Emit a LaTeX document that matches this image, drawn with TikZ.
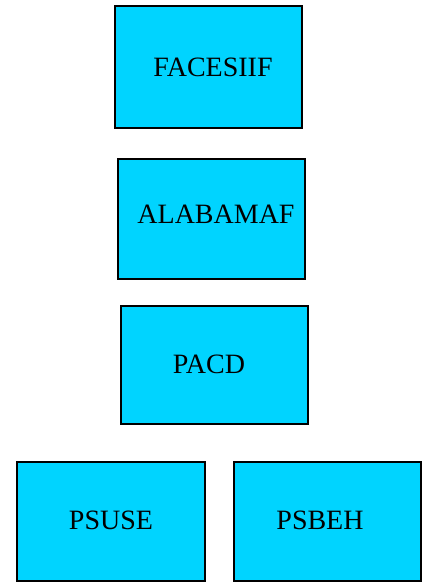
\documentclass[tikz,border=0pt]{standalone}
\usepackage{fontspec}
\setmainfont{Liberation Serif}
\definecolor{boxcyan}{RGB}{0,212,255}
\tikzset{
  box/.style={draw=black, fill=boxcyan, line width=1.6pt, inner sep=0pt, rectangle},
  lbl/.style={anchor=base, font=\fontsize{28pt}{30pt}\selectfont, inner sep=0pt}
}
\begin{document}
\begin{tikzpicture}[x=1pt,y=1pt]
\useasboundingbox (0,0) rectangle (423,-583);
\node[box, minimum width=187pt, minimum height=122pt] (facesiif) at (208.5,-67) {};
\node[box, minimum width=187pt, minimum height=120pt] (alabamaf) at (211.5,-219) {};
\node[box, minimum width=187pt, minimum height=118pt] (pacd) at (214.5,-365) {};
\node[box, minimum width=188pt, minimum height=119pt] (psuse) at (111,-521.5) {};
\node[box, minimum width=187pt, minimum height=119pt] (psbeh) at (327.5,-521.5) {};
\node[lbl] (t1) at (213,-77) {FACESIIF};
\node[lbl] (t2) at (216,-223) {ALABAMAF};
\node[lbl] (t3) at (209,-373) {PACD};
\node[lbl] (t4) at (111,-529) {PSUSE};
\node[lbl] (t5) at (320,-529) {PSBEH};
\end{tikzpicture}
\end{document}
